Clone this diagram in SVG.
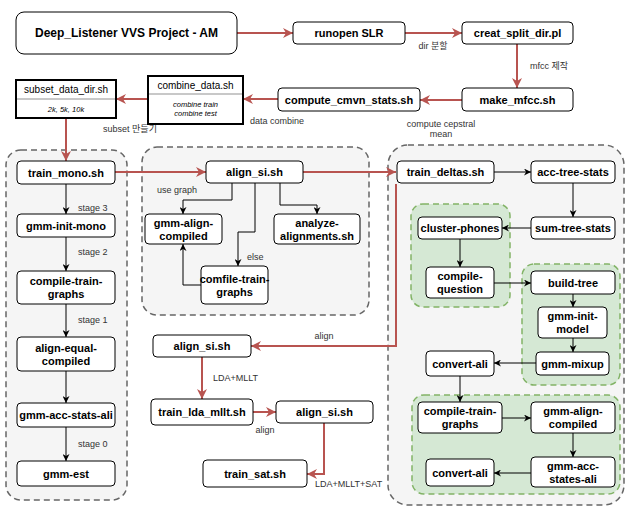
<svg xmlns="http://www.w3.org/2000/svg" width="627" height="509" viewBox="0 0 627 509">
<defs>
<style>
text{font-family:"Liberation Sans","Noto Sans CJK KR",Arial,sans-serif;}
.n{fill:#fff;stroke:#000;stroke-width:1;}
.t{font-size:11px;font-weight:bold;fill:#000;text-anchor:middle;dominant-baseline:central;}
.lbl{font-size:9px;fill:#333;}
.grp{fill:#f5f5f5;stroke:#666;stroke-width:1.5;stroke-dasharray:6 4;}
.grn{fill:#d5e8d4;stroke:#82b366;stroke-width:1.5;stroke-dasharray:6 4;}
.re{fill:none;stroke:#b85450;stroke-width:2;marker-end:url(#ar);}
.be{fill:none;stroke:#000;stroke-width:1;marker-end:url(#ab);}
.sw{fill:#fff;stroke:#000;stroke-width:2;}
.swl{stroke:#c8c8c8;stroke-width:2;}
.hd{font-size:10px;fill:#000;text-anchor:middle;dominant-baseline:central;}
.it{font-size:7.5px;font-style:italic;fill:#000;text-anchor:middle;dominant-baseline:central;}
</style>
<marker id="ar" viewBox="0 0 10 10" refX="10" refY="5" markerWidth="10" markerHeight="10" markerUnits="userSpaceOnUse" orient="auto">
<path d="M0,0 L10,5 L0,10 L3,5 z" fill="#b85450"/>
</marker>
<marker id="ab" viewBox="0 0 10 10" refX="10" refY="5" markerWidth="7" markerHeight="7" markerUnits="userSpaceOnUse" orient="auto">
<path d="M0,0 L10,5 L0,10 L3,5 z" fill="#000"/>
</marker>
</defs>

<g id="groups">
<rect class="grp" x="6" y="150" width="121" height="350" rx="15"/>
<rect class="grp" x="142" y="147" width="227" height="168" rx="15"/>
<rect class="grp" x="388" y="145" width="236" height="360" rx="20"/>
<rect class="grn" x="411" y="204" width="99" height="103" rx="12"/>
<rect class="grn" x="522" y="264" width="98" height="121" rx="12"/>
<rect class="grn" x="412" y="395" width="208" height="99" rx="12"/>
</g>

<g id="connectors">
<path class="re" d="M237,33 L293,33"/>
<path class="re" d="M405,33 L462,33"/>
<path class="re" d="M517,44 L517,88"/>
<path class="re" d="M462,100 L420,100"/>
<path class="re" d="M278,99 L243,99"/>
<path class="re" d="M148,99 L116,99"/>
<path class="re" d="M66,118 L66,161"/>
<path class="re" d="M115,172 L206,172"/>
<path class="re" d="M303,172 L396,172"/>
<path class="re" d="M396,184 L396,346 L251,346"/>
<path class="re" d="M202,357 L202,399"/>
<path class="re" d="M253,412 L276,412"/>
<path class="re" d="M324,423 L324,474 L307,474"/>

<path class="be" d="M66,184 L66,214"/>
<path class="be" d="M66,237 L66,271"/>
<path class="be" d="M66,304 L66,337"/>
<path class="be" d="M66,371 L66,403"/>
<path class="be" d="M66,427 L66,461"/>

<path class="be" d="M232,183 L232,200 L183,200 L183,214"/>
<path class="be" d="M255,183 L255,232 L238,232 L238,266"/>
<path class="be" d="M280,183 L280,205 L317,205 L317,214"/>
<path class="be" d="M201,285 L183,285 L183,244"/>

<path class="be" d="M494,172 L531,172"/>
<path class="be" d="M573,183 L573,217"/>
<path class="be" d="M531,228 L502,228"/>
<path class="be" d="M460,239 L460,267"/>
<path class="be" d="M494,283 L531,283"/>
<path class="be" d="M573,294 L573,307"/>
<path class="be" d="M573,338 L573,352"/>
<path class="be" d="M536,363 L494,363"/>
<path class="be" d="M460,376 L460,402"/>
<path class="be" d="M502,418 L531,418"/>
<path class="be" d="M573,433 L573,457"/>
<path class="be" d="M531,473 L494,473"/>
</g>

<g id="edge-labels">
<text class="lbl" x="433" y="49" text-anchor="middle">dir 분할</text>
<text class="lbl" x="530" y="69">mfcc 제작</text>
<text class="lbl" x="441" y="127" text-anchor="middle">compute cepstral</text>
<text class="lbl" x="441" y="137" text-anchor="middle">mean</text>
<text class="lbl" x="277" y="124" text-anchor="middle">data combine</text>
<text class="lbl" x="130" y="132" text-anchor="middle">subset 만들기</text>
<text class="lbl" x="78" y="211">stage 3</text>
<text class="lbl" x="78" y="255">stage 2</text>
<text class="lbl" x="78" y="323">stage 1</text>
<text class="lbl" x="78" y="447">stage 0</text>
<text class="lbl" x="177" y="193" text-anchor="middle">use graph</text>
<text class="lbl" x="247" y="260">else</text>
<text class="lbl" x="324" y="339" text-anchor="middle">align</text>
<text class="lbl" x="213" y="381">LDA+MLLT</text>
<text class="lbl" x="265" y="433" text-anchor="middle">align</text>
<text class="lbl" x="315" y="487">LDA+MLLT+SAT</text>
</g>

<g id="title"><rect class="n" x="16" y="12" width="221" height="42" rx="8"/><text class="t" x="126.5" y="33" style="font-size:12px">Deep_Listener VVS Project - AM</text></g>
<g id="runopen"><rect class="n" x="293" y="22" width="112" height="22" rx="4"/><text class="t" x="349" y="33">runopen SLR</text></g>
<g id="creat_split"><rect class="n" x="462" y="22" width="111" height="22" rx="4"/><text class="t" x="517.5" y="33">creat_split_dir.pl</text></g>
<g id="make_mfcc"><rect class="n" x="462" y="88" width="111" height="23" rx="4"/><text class="t" x="517.5" y="99.5">make_mfcc.sh</text></g>
<g id="compute_cmvn"><rect class="n" x="278" y="88" width="142" height="23" rx="4"/><text class="t" x="349" y="99.5">compute_cmvn_stats.sh</text></g>
<g id="combine_data"><rect class="sw" x="148" y="76" width="95" height="48"/><line class="swl" x1="149" y1="94" x2="242" y2="94"/><text class="hd" x="195.5" y="85">combine_data.sh</text><text class="it" x="195.5" y="104">combine train</text><text class="it" x="195.5" y="113">combine test</text></g>
<g id="subset_data"><rect class="sw" x="16" y="80" width="100" height="38"/><line class="swl" x1="17" y1="99" x2="115" y2="99"/><text class="hd" x="66" y="89.5">subset_data_dir.sh</text><text class="it" x="66" y="109">2k, 5k, 10k</text></g>

<g id="train_mono"><rect class="n" x="17" y="161" width="98" height="23" rx="4"/><text class="t" x="66" y="172.5">train_mono.sh</text></g>
<g id="gmm_init_mono"><rect class="n" x="17" y="214" width="98" height="23" rx="4"/><text class="t" x="66" y="225.5">gmm-init-mono</text></g>
<g id="compile_train_graphs_1"><rect class="n" x="17" y="271" width="98" height="33" rx="4"/><text class="t" x="66" y="281">compile-train-</text><text class="t" x="66" y="294">graphs</text></g>
<g id="align_equal_compiled"><rect class="n" x="17" y="337" width="98" height="34" rx="4"/><text class="t" x="66" y="347.5">align-equal-</text><text class="t" x="66" y="360.5">compiled</text></g>
<g id="gmm_acc_stats_ali"><rect class="n" x="17" y="403" width="98" height="24" rx="4"/><text class="t" x="66" y="415">gmm-acc-stats-ali</text></g>
<g id="gmm_est"><rect class="n" x="17" y="461" width="98" height="25" rx="4"/><text class="t" x="66" y="473.5">gmm-est</text></g>

<g id="align_si_1"><rect class="n" x="206" y="161" width="97" height="22" rx="4"/><text class="t" x="254.5" y="172">align_si.sh</text></g>
<g id="gmm_align_compiled_1"><rect class="n" x="145" y="214" width="77" height="30" rx="4"/><text class="t" x="183.5" y="222.5">gmm-align-</text><text class="t" x="183.5" y="235.5">compiled</text></g>
<g id="analyze_alignments"><rect class="n" x="274" y="214" width="86" height="30" rx="4"/><text class="t" x="317" y="222.5">analyze-</text><text class="t" x="317" y="235.5">alignments.sh</text></g>
<g id="comfile_train_graphs"><rect class="n" x="201" y="266" width="67" height="38" rx="4"/><text class="t" x="234.5" y="278.5">comfile-train-</text><text class="t" x="234.5" y="291.5">graphs</text></g>

<g id="align_si_2"><rect class="n" x="153" y="335" width="98" height="22" rx="4"/><text class="t" x="202" y="346">align_si.sh</text></g>
<g id="train_lda_mllt"><rect class="n" x="151" y="399" width="102" height="26" rx="4"/><text class="t" x="202" y="412">train_lda_mllt.sh</text></g>
<g id="align_si_3"><rect class="n" x="276" y="401" width="97" height="22" rx="4"/><text class="t" x="324.5" y="412">align_si.sh</text></g>
<g id="train_sat"><rect class="n" x="203" y="460" width="104" height="27" rx="4"/><text class="t" x="255" y="473.5">train_sat.sh</text></g>

<g id="train_deltas"><rect class="n" x="397" y="161" width="97" height="22" rx="4"/><text class="t" x="445.5" y="172">train_deltas.sh</text></g>
<g id="acc_tree_stats"><rect class="n" x="531" y="161" width="84" height="22" rx="4"/><text class="t" x="573" y="172">acc-tree-stats</text></g>
<g id="sum_tree_stats"><rect class="n" x="531" y="217" width="84" height="22" rx="4"/><text class="t" x="573" y="228">sum-tree-stats</text></g>
<g id="cluster_phones"><rect class="n" x="418" y="217" width="84" height="22" rx="4"/><text class="t" x="460" y="228">cluster-phones</text></g>
<g id="compile_question"><rect class="n" x="426" y="267" width="68" height="31" rx="4"/><text class="t" x="460" y="276">compile-</text><text class="t" x="460" y="289">question</text></g>
<g id="build_tree"><rect class="n" x="531" y="271" width="84" height="23" rx="4"/><text class="t" x="573" y="282.5">build-tree</text></g>
<g id="gmm_init_model"><rect class="n" x="538" y="307" width="69" height="31" rx="4"/><text class="t" x="572.5" y="316">gmm-init-</text><text class="t" x="572.5" y="329">model</text></g>
<g id="gmm_mixup"><rect class="n" x="536" y="352" width="73" height="23" rx="4"/><text class="t" x="572.5" y="363.5">gmm-mixup</text></g>
<g id="convert_ali_1"><rect class="n" x="426" y="351" width="68" height="25" rx="4"/><text class="t" x="460" y="363.5">convert-ali</text></g>
<g id="compile_train_graphs_2"><rect class="n" x="418" y="402" width="84" height="31" rx="4"/><text class="t" x="460" y="411">compile-train-</text><text class="t" x="460" y="424">graphs</text></g>
<g id="gmm_align_compiled_2"><rect class="n" x="531" y="402" width="84" height="31" rx="4"/><text class="t" x="573" y="411">gmm-align-</text><text class="t" x="573" y="424">compiled</text></g>
<g id="gmm_acc_states_ali"><rect class="n" x="531" y="457" width="84" height="30" rx="4"/><text class="t" x="573" y="465.5">gmm-acc-</text><text class="t" x="573" y="478.5">states-ali</text></g>
<g id="convert_ali_2"><rect class="n" x="426" y="459" width="68" height="27" rx="4"/><text class="t" x="460" y="472.5">convert-ali</text></g>
</svg>
